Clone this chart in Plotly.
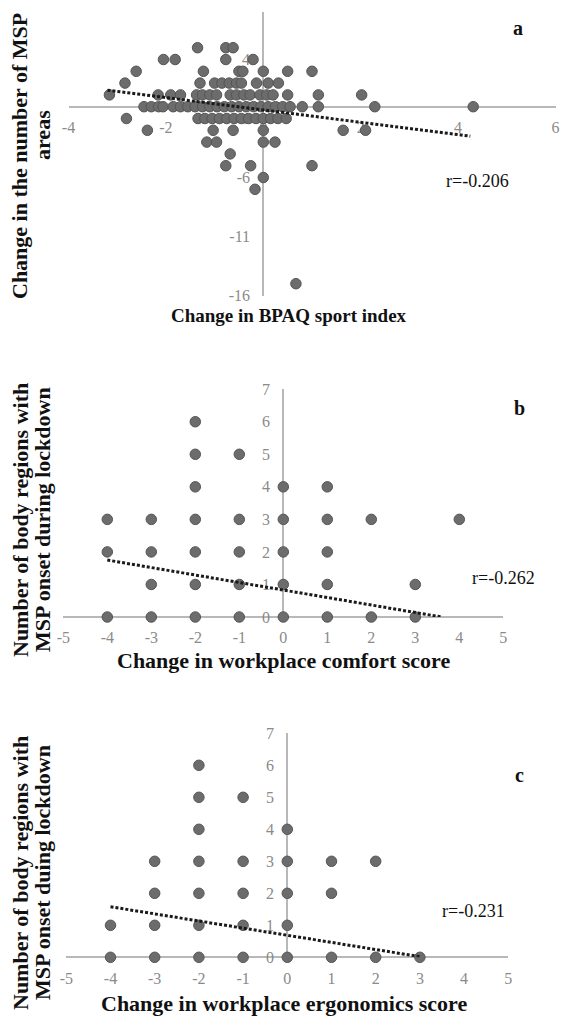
import plotly.graph_objects as go

W, H = 567, 1019

# ---------------- Panel a data ----------------
a_x = [-1.35, -0.77, -0.62,
       -2.05, -1.81, -0.77, -0.21,
       -2.61, -1.23, -0.5, -0.42, 0, 0.5, 1.0,
       -2.84, -1.3, -1.0, -0.85, -0.7, -0.55, -0.45, -0.14, 0.1, 0.31,
       -3.16, -2.16, -1.9, -1.7, -1.37, -1.25, -1.1, -0.96, -0.68, -0.55, -0.4, -0.27, -0.07, 0.07, 0.2, 0.5, 1.13, 2.02,
       -2.45, -2.3, -2.15, -2.06, -1.85, -1.7, -1.55, -1.4, -1.25, -1.1, -0.95, -0.8, -0.65, -0.5, -0.35, -0.2, -0.05,
       0.1, 0.25, 0.4, 0.55, 0.8, 1.13, 2.29, 4.31,
       -2.81, -1.34, -1.2, -1.05, -0.9, -0.75, -0.6, -0.45, -0.3, -0.15, 0, 0.15, 0.3, 0.47,
       -2.38, -1.03, -0.62, 0, 1.64, 2.1,
       -1.16, -0.96, 0, 0.24,
       -0.68,
       -0.77, -0.26, 1.0,
       0,
       -0.17,
       0.67]
a_y = [5, 5, 5,
       4, 4, 4, 4,
       3, 3, 3, 3, 3, 3, 3,
       2, 2, 2, 2, 2, 2, 2, 2, 2, 2,
       1, 1, 1, 1, 1, 1, 1, 1, 1, 1, 1, 1, 1, 1, 1, 1, 1, 1,
       0, 0, 0, 0, 0, 0, 0, 0, 0, 0, 0, 0, 0, 0, 0, 0, 0,
       0, 0, 0, 0, 0, 0, 0, 0,
       -1, -1, -1, -1, -1, -1, -1, -1, -1, -1, -1, -1, -1, -1,
       -2, -2, -2, -2, -2, -2,
       -3, -3, -3, -3,
       -4,
       -5, -5, -5,
       -6,
       -7,
       -15]
a_trend_x = [-3.2, 4.25]
a_trend_y = [1.4, -2.5]
a_xticks = [-4, -2, 0, 2, 4, 6]
a_yticks = [-16, -11, -6, -1, 4]

# ---------------- Panel b data ----------------
b_x = [-2, -2, -1, -2, 0, 1,
       -4, -3, -2, -1, 0, 1, 2, 4,
       -4, -3, -2, -1, 0, 1,
       -3, -2, -1, 0, 1, 3,
       -4, -3, -2, -1, 0, 1, 2, 3]
b_y = [6, 5, 5, 4, 4, 4,
       3, 3, 3, 3, 3, 3, 3, 3,
       2, 2, 2, 2, 2, 2,
       1, 1, 1, 1, 1, 1,
       0, 0, 0, 0, 0, 0, 0, 0]
b_trend_x = [-4, 3.6]
b_trend_y = [1.75, 0.0]

# ---------------- Panel c data ----------------
c_x = [-2, -2, -1, -2, 0,
       -3, -2, -1, 0, 1, 2,
       -3, -2, -1, 0, 1,
       -4, -3, -2, -1, 0,
       -4, -3, -2, -1, 0, 1, 2, 3]
c_y = [6, 5, 5, 4, 4,
       3, 3, 3, 3, 3, 3,
       2, 2, 2, 2, 2,
       1, 1, 1, 1, 1,
       0, 0, 0, 0, 0, 0, 0, 0]
c_trend_x = [-4, 3]
c_trend_y = [1.58, 0.02]
bc_xticks = [-5, -4, -3, -2, -1, 0, 1, 2, 3, 4, 5]
bc_yticks = [0, 1, 2, 3, 4, 5, 6, 7]

# ---------------- styling ----------------
SERIF = "Liberation Serif"
AXIS_COL = "#b8b8b8"
TICK_COL = "#8a8a8a"
DOT_COL = "#6c6c6c"


def px_x(p):
    return p / W


def px_y(p):
    return 1 - p / H


def zero_pos(dom, rng):
    return dom[0] + (0 - rng[0]) / (rng[1] - rng[0]) * (dom[1] - dom[0])


panels = [
    dict(x=a_x, y=a_y, tx=a_trend_x, ty=a_trend_y,
         xdom=[px_x(68.5), px_x(555.5)], ydom=[px_y(295.5), px_y(12.3)],
         xr=[-4, 6], yr=[-16, 8], xt=a_xticks, yt=a_yticks),
    dict(x=b_x, y=b_y, tx=b_trend_x, ty=b_trend_y,
         xdom=[px_x(63.3), px_x(503.3)], ydom=[px_y(617), px_y(389.2)],
         xr=[-5, 5], yr=[0, 7], xt=bc_xticks, yt=bc_yticks),
    dict(x=c_x, y=c_y, tx=c_trend_x, ty=c_trend_y,
         xdom=[px_x(66.3), px_x(508.3)], ydom=[px_y(957.3), px_y(733.3)],
         xr=[-5, 5], yr=[0, 7], xt=bc_xticks, yt=bc_yticks),
]

fig = go.Figure()
layout = dict(template="none", width=W, height=H, margin=dict(l=0, r=0, t=0, b=0, pad=0),
              paper_bgcolor="white", plot_bgcolor="white", showlegend=False,
              font=dict(family=SERIF))

for i, p in enumerate(panels, start=1):
    sfx = "" if i == 1 else str(i)
    xa, ya = "x" + sfx, "y" + sfx
    fig.add_trace(go.Scatter(x=p["x"], y=p["y"], mode="markers", xaxis=xa, yaxis=ya,
                             cliponaxis=False,
                             marker=dict(size=10.5, color=DOT_COL,
                                         line=dict(color="#555555", width=1))))
    fig.add_trace(go.Scatter(x=p["tx"], y=p["ty"], mode="lines", xaxis=xa, yaxis=ya,
                             cliponaxis=False,
                             line=dict(color="#1a1a1a", width=3, dash="3px,2px")))
    layout["xaxis" + sfx] = dict(domain=p["xdom"], range=p["xr"], anchor="free",
                                 position=zero_pos(p["ydom"], p["yr"]), automargin=False,
                                 showgrid=False, zeroline=False, showline=True,
                                 linecolor=AXIS_COL, linewidth=2, layer="below traces",
                                 tickvals=p["xt"], ticktext=[str(v) for v in p["xt"]],
                                 ticks="", ticklabelstandoff=6,
                                 tickfont=dict(family=SERIF, size=16, color=TICK_COL))
    layout["yaxis" + sfx] = dict(domain=p["ydom"], range=p["yr"], anchor="free",
                                 position=zero_pos(p["xdom"], p["xr"]), automargin=False,
                                 showgrid=False, zeroline=False, showline=True,
                                 linecolor=AXIS_COL, linewidth=2, layer="below traces",
                                 tickvals=p["yt"], ticktext=[str(v) for v in p["yt"]],
                                 ticks="", ticklabelstandoff=9,
                                 tickfont=dict(family=SERIF, size=16, color=TICK_COL))

BOLD = lambda s: "<b>" + s + "</b>"

ann = []
# x-axis titles
ann.append(dict(text=BOLD("Change in BPAQ sport index"), x=px_x(289), y=px_y(315), size=19))
ann.append(dict(text=BOLD("Change in workplace comfort score"), x=px_x(283), y=px_y(660), size=22))
ann.append(dict(text=BOLD("Change in workplace ergonomics score"), x=px_x(284), y=px_y(1003), size=22))
# y-axis titles (two lines each)
ann.append(dict(text=BOLD("Change in the number of MSP"), x=px_x(20), y=px_y(156), textangle=-90, size=22))
ann.append(dict(text=BOLD("areas"), x=px_x(42), y=px_y(135), textangle=-90, size=22))
ann.append(dict(text=BOLD("Number of body regions with"), x=px_x(20), y=px_y(520), textangle=-90, size=22))
ann.append(dict(text=BOLD("MSP onset during lockdown"), x=px_x(42), y=px_y(520), textangle=-90, size=22))
ann.append(dict(text=BOLD("Number of body regions with"), x=px_x(20), y=px_y(873), textangle=-90, size=22))
ann.append(dict(text=BOLD("MSP onset duing lockdown"), x=px_x(42), y=px_y(873), textangle=-90, size=22))
for a in ann:
    sz = a.pop("size")
    a.update(xref="paper", yref="paper", showarrow=False,
             font=dict(family=SERIF, size=sz, color="#111111"),
             xanchor="center", yanchor="middle")

small = []
for txt, x, y in [("a", 518, 28), ("b", 519, 408), ("c", 519, 775)]:
    small.append(dict(text=BOLD(txt), x=px_x(x), y=px_y(y), font=dict(family=SERIF, size=20, color="#111111")))
for txt, x, y in [("r=-0.206", 477, 181), ("r=-0.262", 503, 578), ("r=-0.231", 473, 911)]:
    small.append(dict(text=txt, x=px_x(x), y=px_y(y), font=dict(family=SERIF, size=18, color="#111111")))
for a in small:
    a.update(xref="paper", yref="paper", showarrow=False, xanchor="center", yanchor="middle")

layout["annotations"] = ann + small
fig.update_layout(**layout)
fig.write_html("out.html", config={"displayModeBar": False},
               post_script="document.body.style.margin='0';document.body.style.padding='0';"
                           "document.body.style.overflow='hidden';")
